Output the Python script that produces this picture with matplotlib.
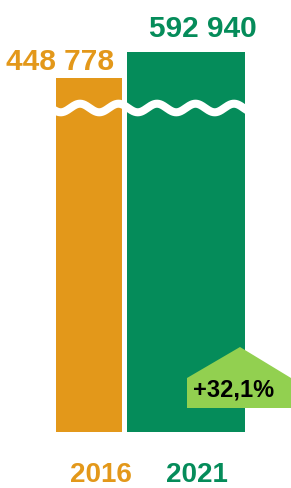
import numpy as np
import matplotlib
matplotlib.use("Agg")
import matplotlib.pyplot as plt
from matplotlib.patches import Polygon

# data
years = ["2016", "2021"]
values = [448778, 592940]
growth_label = "+32,1%"

# colours
bar_colors = ["#E3981A", "#058C5A"]
badge_color = "#92D050"

W, H = 291, 488
plt.rcParams['font.family'] = ['Liberation Sans', 'DejaVu Sans']

fig = plt.figure(figsize=(W / 100, H / 100), dpi=100)

# broken y axis: lower part (0..break) and upper part (break..top)
y_break = 282000
px_scale = 5545.0          # value units per pixel in the upper part
y_join = 108               # pixel row of the break
y_base = 432               # pixel row of the bar bottoms

ax_top = fig.add_axes([0, 1 - y_join / H, 1, y_join / H])
ax_bot = fig.add_axes([0, 1 - y_base / H, 1, (y_base - y_join) / H])
ax_top.set_ylim(y_break, y_break + y_join * px_scale)
ax_bot.set_ylim(0, y_break)

lefts = [56, 126.5]
widths = [66, 118]
for ax in (ax_top, ax_bot):
    ax.bar(lefts, values, width=widths, align='edge', color=bar_colors)
    ax.set_xlim(0, W)
    ax.axis('off')

# overlay in pixel coordinates for wave, badge and texts
ov = fig.add_axes([0, 0, 1, 1])
ov.set_xlim(0, W)
ov.set_ylim(H, 0)
ov.axis('off')

# white wavy break line
xw = np.linspace(50, 250, 400)
yw = y_join - 4.3 * np.cos(2 * np.pi * (xw - 80) / 38.5)
ov.plot(xw, yw, color='white', lw=5.8, solid_capstyle='butt')

# growth badge (arrow-like pentagon)
badge = Polygon([(187, 408), (187, 378), (240, 347), (291, 378), (291, 408)],
                closed=True, facecolor=badge_color, edgecolor='none')
ov.add_patch(badge)
ov.text(234, 397, growth_label, fontsize=17, fontweight='bold',
        color='black', ha='center', va='baseline')

# value labels
fmt = lambda v: f"{v:,}".replace(",", " ")
ov.text(60, 70, fmt(values[0]), fontsize=21.5, fontweight='bold',
        color=bar_colors[0], ha='center', va='baseline')
ov.text(203, 37, fmt(values[1]), fontsize=21.5, fontweight='bold',
        color=bar_colors[1], ha='center', va='baseline')

# year labels
ov.text(101, 487.5, years[0], fontsize=20, fontweight='bold',
        color=bar_colors[0], ha='center', va='bottom')
ov.text(197, 487.5, years[1], fontsize=20, fontweight='bold',
        color=bar_colors[1], ha='center', va='bottom')

fig.savefig("out.png", dpi=100)
